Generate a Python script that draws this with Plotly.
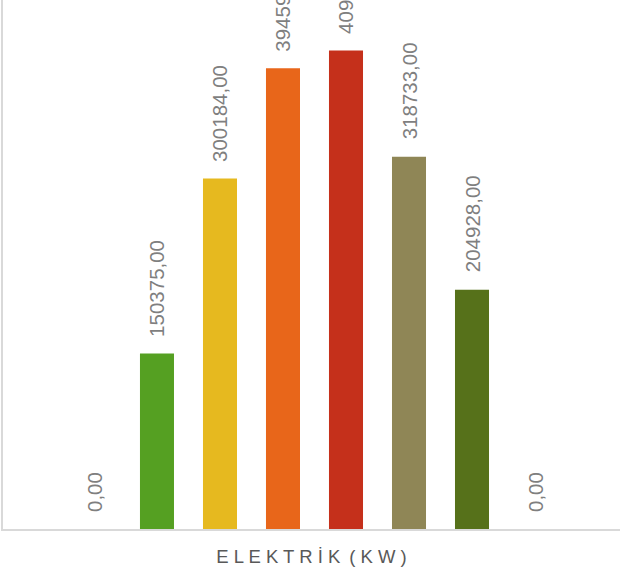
import plotly.graph_objects as go

categories = ["C1", "C2", "C3", "C4", "C5", "C6", "C7", "C8"]
values = [0, 150375, 300184, 394590, 409850, 318733, 204928, 0]
labels = ["0,00", "150375,00", "300184,00", "394590,00", "409850,00", "318733,00", "204928,00", "0,00"]
colors = ["#55a022", "#55a022", "#e6b91f", "#e8661a", "#c5301b", "#8f8656", "#56711a", "#56711a"]
axis_title = "ELEKTRİK (KW)"

fig = go.Figure()
fig.add_trace(go.Bar(
    x=categories, y=values, marker=dict(color=colors, line=dict(width=0)),
    width=0.54, hoverinfo="skip",
))

for c, v, t in zip(categories, values, labels):
    fig.add_annotation(
        x=c, y=v, text=t, textangle=-90, showarrow=False,
        xanchor="center", yanchor="bottom", yshift=15,
        font=dict(family="Liberation Sans, Arial", size=20.5, color="#7f7f7f"),
    )

title_text = " \u2009".join(" ".join(w) for w in axis_title.split(" "))
fig.update_layout(
    width=620, height=574,
    margin=dict(l=3, r=0, t=0, b=44.5),
    plot_bgcolor="white", paper_bgcolor="white",
    showlegend=False,
    xaxis=dict(
        range=[-1.444, 8.349], showticklabels=False, ticks="",
        showgrid=False, zeroline=False,
        showline=True, linecolor="#d9d9d9", linewidth=1.5,
        title=dict(text=title_text, standoff=20,
                   font=dict(family="Liberation Sans, Arial", size=18.5, color="#595959")),
    ),
    yaxis=dict(
        range=[0, 453000], showticklabels=False, ticks="",
        showgrid=False, zeroline=False,
        showline=True, linecolor="#d9d9d9", linewidth=1.5,
    ),
)

fig.write_html("out.html", config={"displayModeBar": False},
               post_script="document.body.style.margin='0';document.body.style.overflow='hidden';")
